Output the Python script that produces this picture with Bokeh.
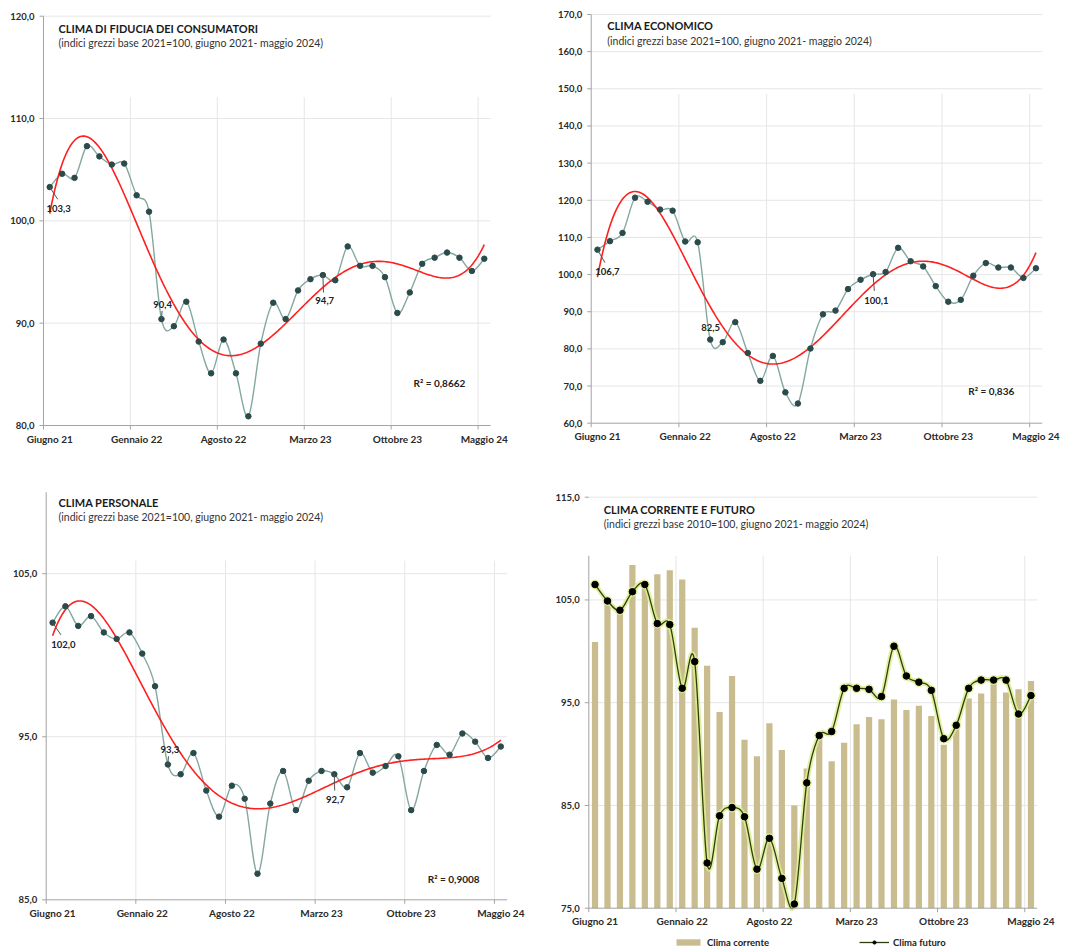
import numpy as np
from bokeh.plotting import figure
from bokeh.models import ColumnDataSource, Range1d, Legend, LegendItem
from bokeh.core.properties import value
from bokeh.embed import file_html
from bokeh.resources import INLINE

# ---------------- data ----------------
x_tick_labels = ["Giugno 21", "Gennaio 22", "Agosto 22", "Marzo 23", "Ottobre 23", "Maggio 24"]
x_tick_index = [0, 7, 14, 21, 28, 35]

fiducia = [103.3, 104.6, 104.2, 107.3, 106.3, 105.5, 105.6, 102.5, 100.9, 90.4, 89.7, 92.1,
           88.2, 85.1, 88.4, 85.1, 80.9, 88.0, 92.0, 90.4, 93.2, 94.3, 94.7, 94.2,
           97.5, 95.6, 95.6, 94.5, 91.0, 93.0, 95.8, 96.4, 96.9, 96.4, 95.1, 96.3]

economico = [106.7, 109.0, 111.2, 120.7, 119.6, 117.5, 117.2, 108.9, 108.7, 82.5, 81.8, 87.2,
             78.9, 71.4, 78.1, 68.3, 65.3, 80.1, 89.3, 90.3, 96.1, 98.6, 100.1, 100.7,
             107.2, 103.6, 102.2, 96.9, 92.7, 93.2, 99.7, 103.1, 101.9, 101.9, 99.1, 101.7]

personale = [102.0, 103.0, 101.8, 102.4, 101.4, 101.0, 101.4, 100.1, 98.1, 93.3, 92.7, 94.0,
             91.7, 90.1, 92.0, 91.2, 86.6, 90.9, 92.9, 90.5, 92.3, 92.9, 92.7, 91.9,
             94.0, 92.8, 93.2, 93.8, 90.5, 92.9, 94.5, 93.9, 95.2, 94.7, 93.7, 94.4]

corrente = [100.9, 104.5, 104.3, 108.4, 106.3, 107.5, 107.9, 107.0, 102.3, 98.6, 94.1, 97.6,
            91.4, 89.8, 93.0, 90.4, 85.0, 88.6, 91.8, 89.3, 91.1, 92.9, 93.6, 93.4,
            95.3, 94.3, 94.7, 93.7, 90.9, 92.6, 95.4, 95.9, 97.0, 96.0, 96.3, 97.1]

futuro = [106.5, 104.9, 104.0, 105.8, 106.5, 102.7, 102.6, 96.4, 99.0, 79.4, 84.0, 84.8,
          83.9, 78.8, 81.8, 77.9, 75.4, 87.2, 91.8, 92.2, 96.4, 96.4, 96.3, 95.6,
          100.5, 97.6, 97.0, 96.2, 91.5, 92.8, 96.4, 97.2, 97.2, 97.2, 93.9, 95.7]

y_ticks = {
    "p1": [80, 90, 100, 110, 120],
    "p2": [60, 70, 80, 90, 100, 110, 120, 130, 140, 150, 160, 170],
    "p3": [85, 95, 105],
    "p4": [75, 85, 95, 105, 115],
}

r2_texts = ["R² = 0,8662", "R² = 0,836", "R² = 0,9008"]
labelled_points = [0, 9, 22]

titles = ["CLIMA DI FIDUCIA DEI CONSUMATORI", "CLIMA ECONOMICO", "CLIMA PERSONALE",
          "CLIMA CORRENTE E FUTURO"]
subtitles = ["(indici grezzi base 2021=100,  giugno 2021- maggio 2024)"] * 3 + \
            ["(indici grezzi base 2010=100,  giugno 2021- maggio 2024)"]

# ---------------- styling / layout ----------------
FONT = "Lato"
AXIS_C = "#a3a3a3"
GRID_C = "#e6e6e6"
LINE_C = "#84a8a0"
DOT_C = "#2b4a4a"
RED = "#ff1f1f"
BAR_C = "#c9bd8f"
TXT_C = "#2a2a2a"

W, H = 1074, 948
# panel frames in page pixels (left, right, top, bottom), value range, axis/grid extents
panels = {
    "p1": dict(box=(43, 490, 15.7, 425), yr=(80, 120), axis_top=120, vgrid_top=112.1),
    "p2": dict(box=(590.7, 1041.7, 14, 422.7), yr=(60, 170), axis_top=170, vgrid_top=148.6),
    "p3": dict(box=(45.7, 506.7, 491.7, 899.3), yr=(85, 110), axis_top=110, vgrid_top=105.8),
    "p4": dict(box=(588.3, 1036.7, 496.7, 907.7), yr=(75, 115), axis_top=109.3, vgrid_top=109.3),
}

idx = list(range(len(fiducia)))
NX = len(idx)


def fmt(v):
    return f"{v:.1f}".replace(".", ",")


def smooth_source(xs, ys):
    n = len(xs)
    d = dict(x0=[], y0=[], x1=[], y1=[], cx0=[], cy0=[], cx1=[], cy1=[])
    for i in range(n - 1):
        a = max(i - 1, 0)
        c = min(i + 2, n - 1)
        d["x0"].append(xs[i]); d["y0"].append(ys[i])
        d["x1"].append(xs[i + 1]); d["y1"].append(ys[i + 1])
        d["cx0"].append(xs[i] + (xs[i + 1] - xs[a]) / 6)
        d["cy0"].append(ys[i] + (ys[i + 1] - ys[a]) / 6)
        d["cx1"].append(xs[i + 1] - (xs[c] - xs[i]) / 6)
        d["cy1"].append(ys[i + 1] - (ys[c] - ys[i]) / 6)
    return ColumnDataSource(d)


p = figure(width=W, height=H, x_range=Range1d(0, W), y_range=Range1d(0, H),
           x_axis_type=None, y_axis_type=None, min_border=0,
           toolbar_location=None, tools="", output_backend="svg")
p.outline_line_color = None

xr, yr, scale = {}, {}, {}
for name, cfg in panels.items():
    L, R, T, B = cfg["box"]
    y0, y1 = cfg["yr"]
    sx = NX / (R - L)
    xs = -0.5 - L * sx
    sy = (y1 - y0) / (B - T)
    ys = y0 - (H - B) * sy
    xr[name] = Range1d(xs, xs + W * sx)
    yr[name] = Range1d(ys, ys + H * sy)
    scale[name] = (sx, sy)
p.extra_x_ranges = xr
p.extra_y_ranges = yr


def kw(name):
    return dict(x_range_name=name, y_range_name=name)


def text(name, x, y, t, size, bold=False, color=TXT_C, align="left", baseline="middle",
         xo=0, yo=0):
    p.text(x=x, y=y, text=t, x_offset=xo, y_offset=yo, text_align=align,
           text_baseline=baseline, text_font=value(FONT),
           text_font_style="bold" if bold else "normal", text_font_size=size,
           text_color=color, **kw(name))


def draw_grid(name):
    cfg = panels[name]
    y0, _ = cfg["yr"]
    yt = y_ticks[name]
    gy = [v for v in yt if v != y0]
    if name == "p3":
        gy = [v for v in gy if v != 110]
    p.segment(x0=[-0.5] * len(gy), y0=gy, x1=[NX - 0.5] * len(gy), y1=gy,
              line_color=GRID_C, line_width=1, **kw(name))
    gx = [i - 0.5 for i in x_tick_index[1:]]
    p.segment(x0=gx, y0=[y0] * len(gx), x1=gx, y1=[cfg["vgrid_top"]] * len(gx),
              line_color=GRID_C, line_width=1, **kw(name))


def draw_axes(name):
    cfg = panels[name]
    sx, sy = scale[name]
    y0, _ = cfg["yr"]
    yt = y_ticks[name]
    # y axis
    p.segment(x0=[-0.5], y0=[y0], x1=[-0.5], y1=[cfg["axis_top"]], line_color=AXIS_C,
              line_width=1, **kw(name))
    p.segment(x0=[-0.5] * len(yt), y0=yt, x1=[-0.5 - 4 * sx] * len(yt), y1=yt,
              line_color=AXIS_C, line_width=1, **kw(name))
    text(name, [-0.5] * len(yt), yt, [fmt(v) for v in yt], "9.5px", bold=True,
         align="right", xo=-9)
    # x axis
    p.segment(x0=[-0.5], y0=[y0], x1=[NX - 0.5], y1=[y0], line_color=AXIS_C,
              line_width=1, **kw(name))
    bx = [i - 0.5 for i in x_tick_index]
    p.segment(x0=bx, y0=[y0] * len(bx), x1=bx, y1=[y0 - 4 * sy] * len(bx),
              line_color=AXIS_C, line_width=1, **kw(name))
    text(name, x_tick_index, [y0] * len(x_tick_index), x_tick_labels, "10px", bold=True,
         align="center", baseline="top", yo=7)


def draw_titles(name, k, x, y_title, y_sub):
    text(name, [x], [y_title], [titles[k]], "11px", bold=True, color="#1a1a1a")
    text(name, [x], [y_sub], [subtitles[k]], "10.5px", color="#333333")


def series_panel(name, vals, k, r2_xy, offsets):
    coef = np.polyfit(idx, vals, 6)          # polynomial trendline (order 6)
    tx = np.linspace(0, NX - 1, 300)
    ty = np.polyval(coef, tx)
    src = smooth_source(idx, vals)
    p.bezier(x0="x0", y0="y0", x1="x1", y1="y1", cx0="cx0", cy0="cy0",
             cx1="cx1", cy1="cy1", source=src, line_color=LINE_C, line_width=1.4,
             **kw(name))
    p.line(tx, ty, line_color=RED, line_width=1.6, **kw(name))
    p.scatter(idx, vals, size=5.5, fill_color=DOT_C, line_color=DOT_C, **kw(name))
    for i, (tdx, tdy, ldx, ldy) in zip(labelled_points, offsets):
        v = vals[i]
        if ldx is not None:
            p.segment(x0=[i], y0=[v], x1=[i + ldx], y1=[v + ldy], line_color="#555555",
                      line_width=1, **kw(name))
        text(name, [i + tdx], [v + tdy], [fmt(v)], "9.5px", bold=True, color="#222222",
             align="center")
    text(name, [r2_xy[0]], [r2_xy[1]], [r2_texts[k]], "10px", bold=True, color="#222222")


# ---------------- panel 1 ----------------
draw_grid("p1")
draw_titles("p1", 0, 0.71, 118.8, 117.35)
series_panel("p1", fiducia, 0, (29.3, 84.2),
             [(0.72, -2.05, 0.65, -1.2), (0.1, 1.4, 0.05, 0.8), (0.15, -2.47, 0.05, -1.7)])
draw_axes("p1")

# ---------------- panel 2 ----------------
draw_grid("p2")
draw_titles("p2", 1, 0.78, 167.0, 163.0)
series_panel("p2", economico, 1, (29.6, 68.8),
             [(0.8, -5.84, 0.6, -3.5), (0.04, 3.3, None, None), (0.27, -7.0, 0.1, -4.5)])
draw_axes("p2")

# ---------------- panel 3 ----------------
draw_grid("p3")
draw_titles("p3", 2, 0.46, 109.35, 108.5)
series_panel("p3", personale, 2, (29.3, 86.3),
             [(0.84, -1.32, 0.65, -0.75), (0.15, 0.92, 0.05, 0.5), (0.08, -1.57, 0.03, -1.0)])
draw_axes("p3")

# ---------------- panel 4 ----------------
draw_grid("p4")
draw_titles("p4", 3, 0.7, 113.8, 112.4)
bars = p.vbar(x=idx, top=corrente, bottom=75, width=0.5, fill_color=BAR_C, line_color=None,
              **kw("p4"))
fsrc = smooth_source(idx, futuro)
p.bezier(x0="x0", y0="y0", x1="x1", y1="y1", cx0="cx0", cy0="cy0", cx1="cx1", cy1="cy1",
         source=fsrc, line_color="#dcef8f", line_width=5, line_alpha=0.85, **kw("p4"))
p.scatter(idx, futuro, size=10, fill_color="#dcef8f", line_color=None, fill_alpha=0.85,
          **kw("p4"))
fline = p.bezier(x0="x0", y0="y0", x1="x1", y1="y1", cx0="cx0", cy0="cy0", cx1="cx1",
                 cy1="cy1", source=fsrc, line_color="#2f3d12", line_width=1.3, **kw("p4"))
fdots = p.scatter(idx, futuro, size=6.5, fill_color="black", line_color="black", **kw("p4"))
draw_axes("p4")

legend = Legend(items=[LegendItem(label="Clima corrente", renderers=[bars]),
                       LegendItem(label="Clima futuro", renderers=[fline, fdots])],
                orientation="horizontal", location=(673, 0))
legend.label_text_font = FONT
legend.label_text_font_style = "bold"
legend.label_text_font_size = "9.5px"
legend.label_text_color = "#222222"
legend.border_line_color = None
legend.background_fill_alpha = 0
legend.padding = 2
legend.margin = 0
legend.spacing = 90
legend.glyph_width = 30
legend.glyph_height = 8
legend.label_height = 12
legend.label_standoff = 4
p.add_layout(legend)

open("out.html", "w").write(file_html(p, INLINE))
